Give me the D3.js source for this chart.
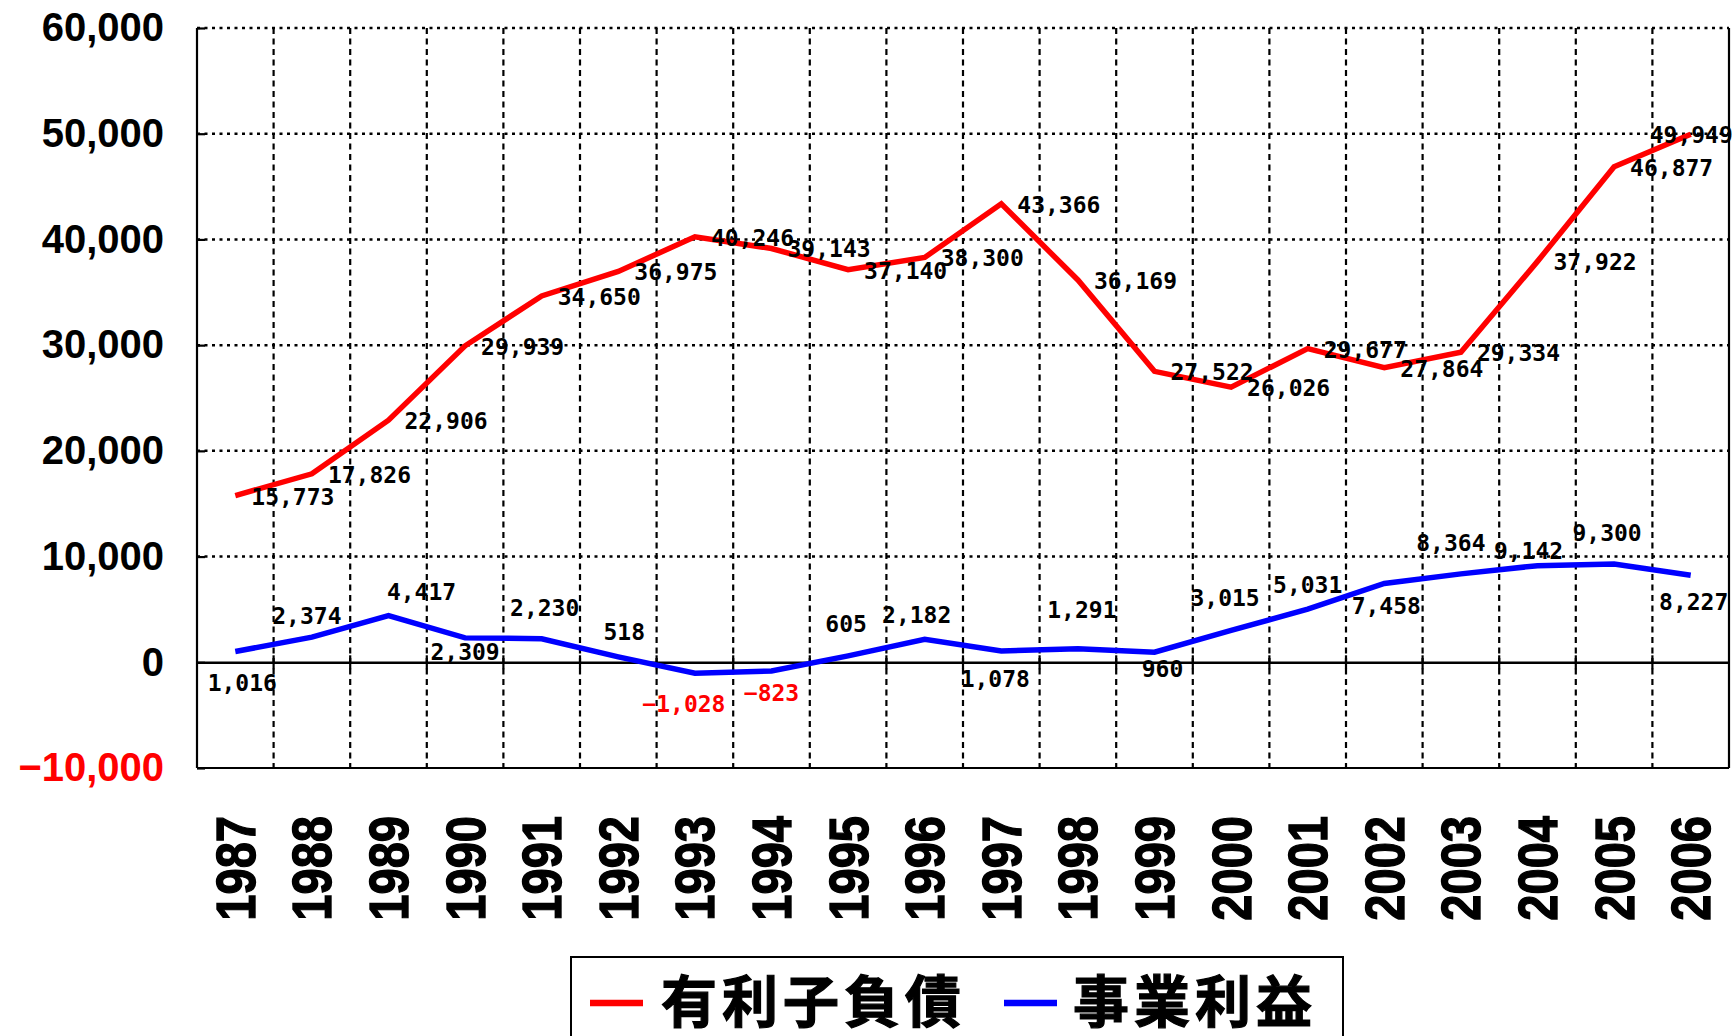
<!DOCTYPE html>
<html>
<head>
<meta charset="utf-8">
<script src="https://cdn.jsdelivr.net/npm/d3@7"></script>
<style>
  body { margin: 0; background: #fff; }
  svg { display: block; }
</style>
</head>
<body>
<svg id="chart" width="1736" height="1036"></svg>
<script>
// Fiscal years on the category axis
const years = ["1987","1988","1989","1990","1991","1992","1993","1994","1995","1996",
               "1997","1998","1999","2000","2001","2002","2003","2004","2005","2006"];

// 有利子負債 (interest-bearing debt)
const debt = [15773, 17826, 22906, 29939, 34650, 36975, 40246, 39143, 37140, 38300,
              43366, 36169, 27522, 26026, 29677, 27864, 29334, 37922, 46877, 49949];

// 事業利益 (business profit)
const profit = [1016, 2374, 4417, 2309, 2230, 518, -1028, -823, 605, 2182,
                1078, 1291, 960, 3015, 5031, 7458, 8364, 9142, 9300, 8227];

// Value-axis ticks
const yTicks = [-10000, 0, 10000, 20000, 30000, 40000, 50000, 60000];

const seriesNames = ["有利子負債", "事業利益"];
const seriesColors = ["#ff0000", "#0000ff"];

// Placement of the profit labels around their points (px)
const profitLabelDx = [7, -5, 33, 0, 3, 6, -11, 0, -2, -8, -6, 4, 8, -6, 0, 2, -10, -9, -7, 3];
const profitLabelDy = [31, -21, -24, 14, -31, -25, 31, 22, -32, -24, 28, -39, 17, -32, -24, 23, -31, -15, -31, 27];

const svg = d3.select("#chart");
const W = 1736, H = 1036;
const margin = { left: 197, right: W - 1729, top: 28, bottom: H - 768 };
const x0 = margin.left, x1 = W - margin.right;
const yTop = margin.top, yBot = H - margin.bottom;

const x = d3.scaleBand().domain(years).range([x0, x1]).padding(0);
const y = d3.scaleLinear().domain([-10000, 60000]).range([yBot, yTop]);
const cx = d => x(d) + x.bandwidth() / 2;
const fmt = d3.format(",");

// Horizontal dotted gridlines
svg.append("g").selectAll("line")
  .data(yTicks.filter(v => v !== 0 && v !== -10000))
  .join("line")
  .attr("x1", x0).attr("x2", x1)
  .attr("y1", d => y(d)).attr("y2", d => y(d))
  .attr("stroke", "#000").attr("stroke-width", 2.5)
  .attr("stroke-dasharray", "3,4.5");

// Vertical dashed gridlines at category boundaries
svg.append("g").selectAll("line")
  .data(years.slice(1))
  .join("line")
  .attr("x1", d => x(d)).attr("x2", d => x(d))
  .attr("y1", yTop).attr("y2", yBot)
  .attr("stroke", "#000").attr("stroke-width", 2.2)
  .attr("stroke-dasharray", "6,4.5");

// Plot frame: solid sides, bottom edge
svg.append("line").attr("x1", x0).attr("x2", x0).attr("y1", yTop).attr("y2", yBot)
  .attr("stroke", "#000").attr("stroke-width", 2.2);
svg.append("line").attr("x1", x1).attr("x2", x1).attr("y1", yTop).attr("y2", yBot)
  .attr("stroke", "#000").attr("stroke-width", 2.2);
svg.append("line").attr("x1", x0).attr("x2", x1).attr("y1", yBot).attr("y2", yBot)
  .attr("stroke", "#000").attr("stroke-width", 2.2);

// Value axis with inward ticks
const yAxis = svg.append("g")
  .attr("transform", `translate(${x0},0)`)
  .call(d3.axisLeft(y).tickValues(yTicks).tickFormat(fmt).tickSize(-8).tickPadding(33));
yAxis.select(".domain").remove();
yAxis.selectAll(".tick line").attr("stroke", "#000").attr("stroke-width", 2.2);
yAxis.selectAll(".tick text")
  .attr("font-family", "'Liberation Sans', Arial, sans-serif")
  .attr("font-weight", "bold")
  .attr("font-size", 40)
  .attr("fill", d => d < 0 ? "#ff0000" : "#000");

// Category axis along the zero line
const xAxis = svg.append("g")
  .attr("transform", `translate(0,${y(0)})`)
  .call(d3.axisBottom(x).tickSize(0).tickFormat(""));
xAxis.select(".domain").attr("stroke", "#000").attr("stroke-width", 2.4);
svg.append("g").selectAll("line")
  .data(years.slice(1))
  .join("line")
  .attr("x1", d => x(d)).attr("x2", d => x(d))
  .attr("y1", y(0) - 7).attr("y2", y(0) + 7)
  .attr("stroke", "#000").attr("stroke-width", 2.2);

// Rotated year labels below the plot
svg.append("g").selectAll("text")
  .data(years)
  .join("text")
  .attr("transform", d => `translate(${cx(d)},816) rotate(-90) scale(0.84,1)`)
  .attr("text-anchor", "end")
  .attr("dominant-baseline", "central")
  .attr("font-family", "'Liberation Sans', Arial, sans-serif")
  .attr("font-weight", "bold")
  .attr("font-size", 56)
  .attr("stroke", "#000").attr("stroke-width", 1.4)
  .attr("fill", "#000")
  .text(d => d);

// Series lines
const line = d3.line().x((d, i) => cx(years[i])).y(d => y(d));
[debt, profit].forEach((vals, s) => {
  svg.append("path")
    .datum(vals)
    .attr("d", line)
    .attr("fill", "none")
    .attr("stroke", seriesColors[s])
    .attr("stroke-width", 5.5)
    .attr("stroke-linejoin", "miter");
});

const labelFont = "'DejaVu Sans Mono', monospace";

// Debt labels: to the right of each point; last one pulled inside the frame
svg.append("g").selectAll("text")
  .data(debt)
  .join("text")
  .attr("x", (d, i) => cx(years[i]) + (i === debt.length - 1 ? -41 : 16))
  .attr("y", d => y(d) + 1)
  .attr("dominant-baseline", "central")
  .attr("font-family", labelFont)
  .attr("font-weight", "bold")
  .attr("font-size", 23)
  .attr("fill", "#000")
  .text(d => fmt(d));

// Profit labels above / below each point
svg.append("g").selectAll("text")
  .data(profit)
  .join("text")
  .attr("x", (d, i) => cx(years[i]) + profitLabelDx[i])
  .attr("y", (d, i) => y(d) + profitLabelDy[i])
  .attr("text-anchor", "middle")
  .attr("dominant-baseline", "central")
  .attr("font-family", labelFont)
  .attr("font-weight", "bold")
  .attr("font-size", 23)
  .attr("fill", d => d < 0 ? "#ff0000" : "#000")
  .text(d => fmt(d));

// Legend
const legend = svg.append("g");
legend.append("rect")
  .attr("x", 571).attr("y", 957).attr("width", 772).attr("height", 100)
  .attr("fill", "#fff").attr("stroke", "#000").attr("stroke-width", 2);
const legendItems = [
  { name: seriesNames[0], color: seriesColors[0], lx: 590, tx: 661 },
  { name: seriesNames[1], color: seriesColors[1], lx: 1004, tx: 1073 }
];
legendItems.forEach(it => {
  legend.append("line")
    .attr("x1", it.lx).attr("x2", it.lx + 53)
    .attr("y1", 1003).attr("y2", 1003)
    .attr("stroke", it.color).attr("stroke-width", 6.5);
  legend.append("text")
    .attr("x", it.tx).attr("y", 997)
    .attr("dominant-baseline", "central")
    .attr("font-family", "'Noto Sans CJK JP', sans-serif")
    .attr("font-weight", "bold")
    .attr("font-size", 56)
    .attr("letter-spacing", 5)
    .attr("stroke", "#000").attr("stroke-width", 1.2)
    .attr("fill", "#000")
    .text(it.name);
});
</script>
</body>
</html>
